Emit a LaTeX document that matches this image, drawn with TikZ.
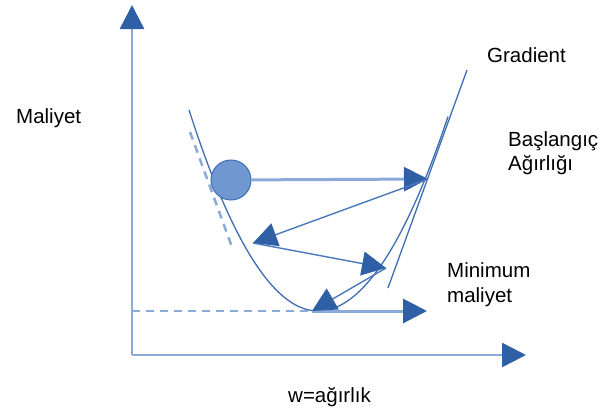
\documentclass[tikz,border=0pt]{standalone}
\usepackage{fontspec}
\setmainfont{Liberation Sans}
\usetikzlibrary{arrows.meta}
\definecolor{axisblue}{HTML}{8BAADA}
\definecolor{tipblue}{HTML}{2F60A6}
\definecolor{curveblue}{HTML}{3F6DB4}
\definecolor{thinblue}{HTML}{4A78BB}
\definecolor{ballfill}{HTML}{7098D0}
\tikzset{
  bigtip/.style={-{Triangle[length=24pt,width=24pt,color=tipblue]}},
  axisline/.style={draw=axisblue,line width=2.5pt,bigtip},
  stepline/.style={draw=axisblue,line width=3pt,bigtip},
  bounceline/.style={draw=thinblue,line width=1.4pt,bigtip},
  curveline/.style={draw=curveblue,line width=1.3pt},
  tangentdash/.style={draw=axisblue,line width=2.5pt,dash pattern=on 8pt off 6pt},
  lbl/.style={anchor=base west,inner sep=0pt,font=\fontsize{20.5}{24}\selectfont,text=black}
}
\begin{document}
\begin{tikzpicture}[x=1pt,y=-1pt]
\useasboundingbox (0,0) rectangle (606,418);

% key points
\coordinate (origin) at (132,355);
\coordinate (ytip) at (132,5);
\coordinate (xtip) at (526,355);
\coordinate (vtx) at (312,311);
\coordinate (minend) at (427,311);
\coordinate (dashstart) at (132,311);
\coordinate (p1) at (428,179);
\coordinate (p2) at (253,243);
\coordinate (p3) at (386,268);
\coordinate (g1) at (467,70);
\coordinate (g2) at (388,288);
\coordinate (d1) at (190,132);
\coordinate (d2) at (232,247);

% cost curve
\draw[curveline] plot[domain=189:318,samples=60,smooth] (\x,{311-0.01208*(\x-318)*(\x-318)});
\draw[curveline] plot[domain=318:448,samples=60,smooth] (\x,{311-0.0115*(\x-318)*(\x-318)});

% tangent lines
\draw[curveline] (g1) -- (g2);
\draw[tangentdash] (d1) -- (d2);

% minimum level
\draw[tangentdash] (dashstart) -- (vtx);
\draw[stepline] (vtx) -- (minend);

% axes
\draw[axisline] (origin) -- (ytip);
\draw[axisline] (origin) -- (xtip);

% starting weight and descent steps
\node[circle,minimum size=40pt,inner sep=0pt,fill=ballfill,draw=curveblue,line width=1pt] (ball) at (231,180) {};
\draw[stepline] (ball) -- (p1);
\draw[bounceline] (p1) -- (p2);
\draw[bounceline] (p2) -- (p3);
\draw[bounceline] (p3) -- (vtx);

% labels
\node[lbl] (cost) at (16,123) {Maliyet};
\node[lbl] (grad) at (487,62) {Gradient};
\node[lbl] (start1) at (508,146) {Başlangıç};
\node[lbl] (start2) at (508,170) {Ağırlığı};
\node[lbl] (min1) at (447,277) {Minimum};
\node[lbl] (min2) at (447,302) {maliyet};
\node[lbl] (wlabel) at (288,402) {w=ağırlık};
\end{tikzpicture}
\end{document}
